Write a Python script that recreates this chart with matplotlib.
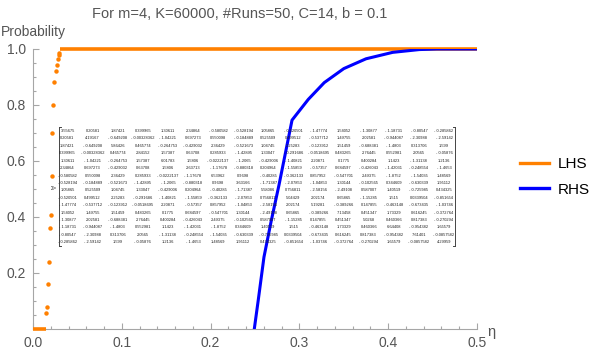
import numpy as np
import matplotlib
matplotlib.use("Agg")
import matplotlib.pyplot as plt
from matplotlib.ticker import MultipleLocator

plt.rcParams["font.family"] = ["Liberation Sans", "DejaVu Sans"]

# LHS: rising points between the two flat stretches (0 before, 1 after)
lhs_eta = [0.0150, 0.0161, 0.0169, 0.0180, 0.0191, 0.0199, 0.0211, 0.0217,
           0.0229, 0.0240, 0.0259, 0.0267, 0.0285, 0.0293, 0.0296]
lhs_prob = [0.058, 0.079, 0.160, 0.239, 0.360, 0.408, 0.548, 0.701,
            0.801, 0.881, 0.923, 0.943, 0.963, 0.980, 0.985]
lhs_zero_eta = [0.0, 0.0145]
lhs_one_eta = [0.0300, 0.5]

# RHS curve
rhs_eta = [0.2492, 0.2537, 0.2601, 0.2680, 0.2770, 0.2917, 0.310, 0.328,
           0.350, 0.375, 0.405, 0.435, 0.455, 0.500]
rhs_prob = [0.0, 0.104, 0.257, 0.382, 0.514, 0.746, 0.82, 0.88,
            0.93, 0.965, 0.988, 0.998, 1.0, 1.0]

# covariance matrix printed on the plot
sigma = [
    [3.55675, 0.20581, 1.87421, 0.399965, 1.30611, 2.34864, -0.580582, -0.528194, 1.05865, -0.520501, -1.47774, 1.54052, -1.30877, -1.18731, -0.80547, -0.285862],
    [0.20581, 4.19167, -0.649208, -0.00328362, -1.04221, 0.697273, 0.550098, -0.184889, 0.525509, 0.499512, -0.537712, 1.49755, 2.02581, -0.944087, -2.30988, -2.59142],
    [1.87421, -0.649208, 5.86426, 0.465774, -0.264753, -0.429032, 2.36429, -0.521673, 1.04745, 2.25283, -0.123912, 1.51459, -0.688381, -1.4803, 0.313706, 1.599],
    [0.399965, -0.00328362, 0.465774, 2.84152, 1.57387, 0.63708, 0.285933, -1.42895, 1.33047, -0.291686, -0.0518695, 0.483265, 2.76445, 0.552981, 2.0565, -0.05876],
    [1.30611, -1.04221, -0.264753, 1.57387, 6.01783, 1.5806, -0.0222137, -1.2065, -0.429006, -1.40821, 2.20871, 0.1775, 0.400284, 1.1423, -1.31138, 1.2136],
    [2.34864, 0.697273, -0.429032, 0.63708, 1.5806, 2.63713, -1.17678, -0.880318, 0.204964, -1.55859, -0.57357, 0.684597, -0.426043, -1.42031, -0.248554, -1.4653],
    [-0.580582, 0.550098, 2.36429, 0.285933, -0.0222137, -1.17678, 6.53962, 0.9698, -0.40285, -0.362133, 0.857952, -0.547701, 2.49375, -1.8752, -1.54035, 1.48569],
    [-0.528194, -0.184889, -0.521673, -1.42895, -1.2065, -0.880318, 0.9698, 3.63166, -1.71387, -2.07853, -1.04853, 1.30144, -0.102565, 0.344609, -0.630339, 1.95112],
    [1.05865, 0.525509, 1.04745, 1.33047, -0.429006, 0.204964, -0.40285, -1.71387, 5.58086, 0.756811, -2.58156, -2.49108, 0.587007, 1.40519, -0.725985, 0.434325],
    [-0.520501, 0.499512, 2.25283, -0.291686, -1.40821, -1.55859, -0.362133, -2.07853, 0.756811, 5.04429, 2.02174, 0.65865, -1.15285, 1.515, 0.0339504, -0.851654],
    [-1.47774, -0.537712, -0.123912, -0.0518695, 2.20871, -0.57357, 0.857952, -1.04853, -2.58156, 2.02174, 5.19281, -0.389266, 0.147855, -0.463148, -0.673435, -1.03746],
    [1.54052, 1.49755, 1.51459, 0.483265, 0.1775, 0.684597, -0.547701, 1.30144, -2.49108, 0.65865, -0.389266, 7.13458, 0.451347, 1.73329, 0.616245, -0.372764],
    [-1.30877, 2.02581, -0.688381, 2.76445, 0.400284, -0.426043, 2.49375, -0.102565, 0.587007, -1.15285, 0.147855, 0.451347, 5.0268, 0.460366, 0.817383, -0.270294],
    [-1.18731, -0.944087, -1.4803, 0.552981, 1.1423, -1.42031, -1.8752, 0.344609, 1.40519, 1.515, -0.463148, 1.73329, 0.460366, 6.64408, -0.954382, 1.65579],
    [-0.80547, -2.30988, 0.313706, 2.0565, -1.31138, -0.248554, -1.54035, -0.630339, -0.725985, 0.0339504, -0.673435, 0.616245, 0.817383, -0.954382, 7.61401, -0.0857582],
    [-0.285862, -2.59142, 1.599, -0.05876, 1.2136, -1.4653, 1.48569, 1.95112, 0.434325, -0.851654, -1.03746, -0.372764, -0.270294, 1.65579, -0.0857582, 4.29959],
]

ORANGE = "#ff8000"
BLUE = "#0000ff"
GREY = "#a6a6a6"
TXT = "#555555"

W, H = 599, 353
fig = plt.figure(figsize=(W / 100, H / 100), dpi=100)
ax = fig.add_axes([33 / W, 1 - 329 / H, 444 / W, 280 / H])

# LHS (points, the flat runs are dense points that merge into a thick line)
ax.plot(lhs_zero_eta, [0, 0], color=ORANGE, lw=2.6, solid_capstyle="butt", clip_on=False, zorder=3)
ax.plot(lhs_one_eta, [1, 1], color=ORANGE, lw=2.6, solid_capstyle="butt", clip_on=False, zorder=3)
ax.plot(lhs_eta, lhs_prob, "o", color=ORANGE, ms=3.2, mec="none", clip_on=False, zorder=3)
ax.plot(rhs_eta, rhs_prob, color=BLUE, lw=2.2, zorder=4)

ax.set_xlim(0, 0.5)
ax.set_ylim(0, 1.0)
for s in ["top", "right"]:
    ax.spines[s].set_visible(False)
for s in ["left", "bottom"]:
    ax.spines[s].set_color(GREY)
    ax.spines[s].set_linewidth(0.8)
ax.xaxis.set_major_locator(MultipleLocator(0.1))
ax.xaxis.set_minor_locator(MultipleLocator(0.02))
ax.yaxis.set_major_locator(MultipleLocator(0.2))
ax.yaxis.set_minor_locator(MultipleLocator(0.05))
ax.tick_params(which="both", direction="in", color=GREY, width=0.8, labelcolor=TXT, labelsize=10)
ax.tick_params(which="major", length=4.5)
ax.tick_params(which="minor", length=2.5)
ax.tick_params(axis="x", pad=5)
ax.tick_params(axis="y", pad=5)
ax.set_xticks(np.arange(0, 0.51, 0.1))
ax.set_xticklabels(["0.0", "0.1", "0.2", "0.3", "0.4", "0.5"])
ax.set_yticks([0.2, 0.4, 0.6, 0.8, 1.0])
ax.set_yticklabels(["0.2", "0.4", "0.6", "0.8", "1.0"])
ax.patch.set_alpha(0)

fig.text(240 / W, 1 - 14 / H, "For m=4, K=60000, #Runs=50, C=14, b = 0.1",
         ha="center", va="center", fontsize=10.5, color=TXT)
fig.text(1 / W, 1 - 32 / H, "Probability", ha="left", va="center", fontsize=10, color=TXT)
fig.text(487 / W, 1 - 332 / H, "η", ha="left", va="center", fontsize=10.5, color=TXT)

# matrix overlay
x0, dx = 67.5, 25.1
y0, dy = 131.0, 7.42
for i, row in enumerate(sigma):
    for j, v in enumerate(row):
        fig.text((x0 + j * dx) / W, 1 - (y0 + i * dy) / H, f"{v:.6g}".replace("-", "- "),
                 ha="center", va="center", fontsize=2.9, color="#222222")
yb0, yb1 = 1 - 127 / H, 1 - 246 / H
for xb, sgn in [(59 / W, 1), (455 / W, -1)]:
    fig.add_artist(plt.Line2D([xb, xb], [yb0, yb1], color="#444444", lw=0.7))
    for yb in (yb0, yb1):
        fig.add_artist(plt.Line2D([xb, xb + sgn * 2 / W], [yb, yb], color="#444444", lw=0.7))
fig.text(57 / W, 1 - 188 / H, "Σ=", ha="right", va="center", fontsize=3.6, color="#222222")

h1, = ax.plot([], [], color=ORANGE, lw=2.4)
h2, = ax.plot([], [], color=BLUE, lw=2.4)
fig.legend([h1, h2], ["LHS", "RHS"], loc="center left",
           bbox_to_anchor=(512 / W, 1 - 177 / H), frameon=False, fontsize=11,
           handlelength=1.9, handletextpad=0.6, labelspacing=0.75, borderpad=0)

fig.savefig("out.png", dpi=100)
